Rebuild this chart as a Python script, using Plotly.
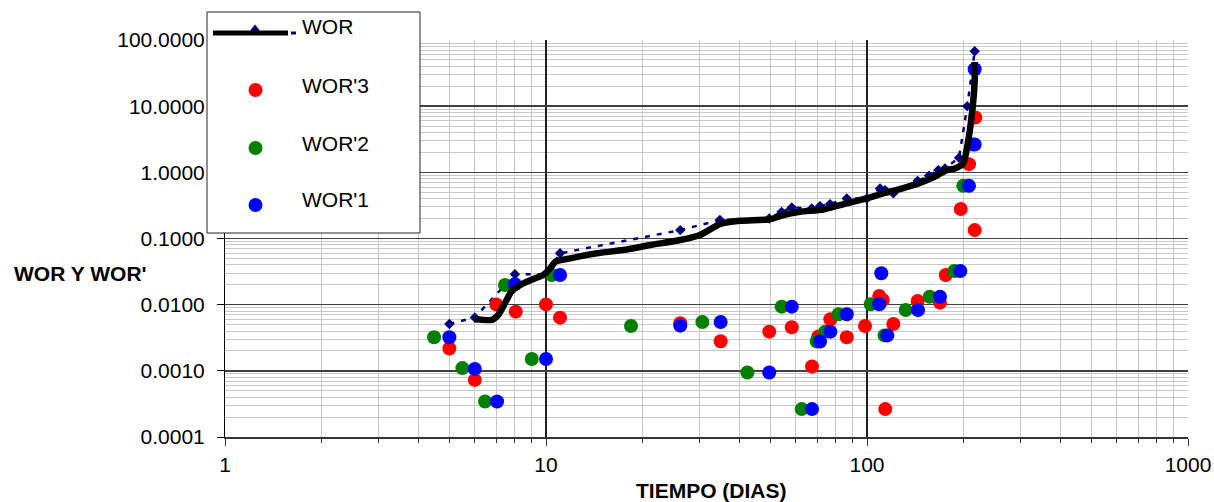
import plotly.graph_objects as go

# ---------------- data ----------------
# WOR (navy dashed line with diamonds)
tiempo_wor = [5.0, 6.0, 8.0, 10.0, 11.06, 26.2, 34.8, 49.6, 54.2, 58.3, 67.3, 71.4,
              76.7, 86.5, 99.8, 109.8, 113.8, 120.8, 143.8, 156.0, 166.8, 175.0,
              193.5, 205.3, 216.5]
wor = [0.0051, 0.0064, 0.0288, 0.0288, 0.0597, 0.134, 0.190, 0.201, 0.253, 0.295,
       0.285, 0.309, 0.331, 0.404, 0.40, 0.571, 0.539, 0.481, 0.744, 0.886, 1.08,
       1.146, 1.66, 10.0, 67.5]

# smoothed WOR (thick black line)
tiempo_ajuste = [6.0, 6.8, 7.1, 7.45, 7.8, 8.3, 9.1, 9.8, 10.3, 10.7, 11.9, 14.4,
                 17.4, 21.1, 26.2, 30.2, 34.8, 40.2, 49.9, 54.9, 61.8, 73.1, 82.4,
                 99.8, 112.4, 120.8, 142.8, 160.9, 177.1, 187.9, 199.5, 206.8,
                 213.5, 216.5, 216.5]
wor_ajuste = [0.0060, 0.0059, 0.0070, 0.0105, 0.0157, 0.0198, 0.0242, 0.0281,
              0.0354, 0.0446, 0.0501, 0.0597, 0.0670, 0.0796, 0.0948, 0.113,
              0.165, 0.185, 0.195, 0.226, 0.253, 0.275, 0.320, 0.404, 0.481,
              0.526, 0.664, 0.838, 1.08, 1.146, 1.36, 3.06, 9.75, 24.6, 46.6]

# WOR'3 (red)
tiempo_w3 = [5.0, 6.0, 7.0, 8.05, 10.0, 11.06, 26.2, 35.0, 49.6, 58.3, 67.4, 70.5,
             76.9, 86.5, 98.6, 109.2, 111.9, 114.0, 120.8, 143.8, 168.8, 175.9,
             195.9, 207.9, 216.5, 217.5]
wor3 = [0.00217, 0.00073, 0.0101, 0.00784, 0.0101, 0.00637, 0.00524, 0.00280,
        0.00391, 0.00456, 0.00116, 0.00329, 0.00603, 0.00322, 0.00477, 0.01353,
        0.01178, 0.000264, 0.00511, 0.01138, 0.01072, 0.0281, 0.279, 1.33, 0.134,
        6.74]

# WOR'2 (green)
tiempo_w2 = [4.48, 5.49, 6.46, 7.45, 9.03, 10.42, 18.4, 30.7, 42.4, 54.2, 62.6,
             69.7, 74.1, 81.6, 102.7, 113.4, 132.0, 156.8, 187.1, 199.5, 212.8]
wor2 = [0.00322, 0.0011, 0.000344, 0.0198, 0.00151, 0.0281, 0.00477, 0.00548,
        0.000942, 0.00933, 0.000264, 0.00277, 0.00391, 0.00716, 0.01014, 0.00343,
        0.00832, 0.0132, 0.0323, 0.625, 2.64]

# WOR'1 (blue)
tiempo_w1 = [5.0, 6.0, 7.04, 8.0, 10.0, 11.06, 26.2, 35.0, 49.6, 58.3, 67.4, 71.4,
             76.9, 86.5, 110.8, 109.2, 115.7, 144.2, 168.8, 195.3, 207.9, 216.5,
             216.5]
wor1 = [0.00322, 0.00107, 0.000344, 0.0203, 0.00151, 0.0281, 0.00482, 0.00548,
        0.000942, 0.00933, 0.000264, 0.00277, 0.00391, 0.00716, 0.0298, 0.01014,
        0.00343, 0.00832, 0.0132, 0.0323, 0.625, 2.64, 36.1]

x_tickvals = [1, 10, 100, 1000]
x_ticktext = ["1", "10", "100", "1000"]
y_tickvals = [0.0001, 0.001, 0.01, 0.1, 1, 10, 100]
y_ticktext = ["0.0001", "0.0010", "0.0100", "0.1000", "1.0000", "10.0000", "100.0000"]

legend_names = ["WOR", "WOR'3", "WOR'2", "WOR'1"]
x_title = "TIEMPO (DIAS)"
y_title = "WOR Y WOR'"

# ---------------- layout geometry (page pixels) ----------------
FW, FH = 1214, 502
L, R, T, B = 225, 26, 40, 65
PW = FW - L - R
PH = FH - T - B


def px(x):
    return (x - L) / PW


def py(y):
    return (FH - B - y) / PH


FONT = "Arial, 'Liberation Sans', sans-serif"
NAVY = "#000080"
RED = "#FF0000"
GREEN = "#008000"
BLUE = "#0000FF"

fig = go.Figure()

fig.add_trace(go.Scatter(
    x=tiempo_wor, y=wor, mode="lines+markers", name=legend_names[0],
    line=dict(color=NAVY, width=2.5, dash="5px,7px"),
    marker=dict(symbol="diamond", size=8, color=NAVY),
    showlegend=False))

for xs, ys, col, nm in [(tiempo_w3, wor3, RED, legend_names[1]),
                        (tiempo_w2, wor2, GREEN, legend_names[2]),
                        (tiempo_w1, wor1, BLUE, legend_names[3])]:
    fig.add_trace(go.Scatter(
        x=xs, y=ys, mode="markers", name=nm,
        marker=dict(symbol="circle", size=14, color=col, line=dict(width=0)),
        showlegend=False))

fig.add_trace(go.Scatter(
    x=tiempo_ajuste, y=wor_ajuste, mode="lines", name="WOR ajuste",
    line=dict(color="black", width=6.5, shape="spline", smoothing=0.6),
    showlegend=False))

# ---------------- custom legend box ----------------
shapes = []
shapes.append(dict(type="rect", xref="paper", yref="paper",
                   x0=px(207), x1=px(420), y0=py(233), y1=py(12),
                   fillcolor="white", line=dict(color="#222222", width=1),
                   layer="above"))
dcx, dcy, dr = 255, 30, 4.5
shapes.append(dict(type="path", xref="paper", yref="paper", layer="above",
                   path=f"M {px(dcx-dr)},{py(dcy)} L {px(dcx)},{py(dcy-dr*1.2)} "
                        f"L {px(dcx+dr)},{py(dcy)} L {px(dcx)},{py(dcy+dr*1.2)} Z",
                   fillcolor=NAVY, line=dict(width=0)))
shapes.append(dict(type="line", xref="paper", yref="paper", layer="above",
                   x0=px(291), x1=px(296), y0=py(33), y1=py(33),
                   line=dict(color=NAVY, width=3)))
shapes.append(dict(type="line", xref="paper", yref="paper", layer="above",
                   x0=px(213), x1=px(288), y0=py(33), y1=py(33),
                   line=dict(color="black", width=5)))
for cy, col in [(90, RED), (148, GREEN), (205, BLUE)]:
    shapes.append(dict(type="circle", xref="paper", yref="paper", layer="above",
                       x0=px(255.5 - 7), x1=px(255.5 + 7),
                       y0=py(cy + 7), y1=py(cy - 7),
                       fillcolor=col, line=dict(width=0)))

annotations = []
for name, ty in zip(legend_names, [26, 85, 143, 200]):
    annotations.append(dict(text=name, xref="paper", yref="paper",
                            x=px(300), y=py(ty), xanchor="left", yanchor="middle",
                            showarrow=False, font=dict(family=FONT, size=21, color="black")))
annotations.append(dict(text=f"<b>{y_title}</b>", xref="paper", yref="paper",
                        x=px(80), y=py(273), xanchor="center", yanchor="middle",
                        showarrow=False, font=dict(family=FONT, size=21, color="black")))
annotations.append(dict(text=f"<b>{x_title}</b>", xref="paper", yref="paper",
                        x=px(711), y=py(490), xanchor="center", yanchor="middle",
                        showarrow=False, font=dict(family=FONT, size=21, color="black")))

fig.update_layout(
    width=FW, height=FH,
    margin=dict(l=L, r=R, t=T, b=B, pad=0, autoexpand=False),
    paper_bgcolor="white", plot_bgcolor="white",
    font=dict(family=FONT, size=21, color="black"),
    shapes=shapes, annotations=annotations,
    showlegend=False,
)

fig.update_xaxes(
    type="log", range=[0, 3], automargin=False,
    tickmode="array", tickvals=x_tickvals, ticktext=x_ticktext,
    ticks="outside", ticklen=7, tickwidth=1, tickcolor="#333333",
    ticklabelstandoff=1,
    showline=True, linecolor="#333333", linewidth=2,
    showgrid=True, gridcolor="#202020", gridwidth=1.2,
    zeroline=False,
    tickfont=dict(family=FONT, size=21, color="black"),
    minor=dict(tickmode="linear", dtick="D1", ticks="outside", ticklen=4,
               tickcolor="#333333", showgrid=True, gridcolor="#C8C8C8", gridwidth=1),
)
fig.update_yaxes(
    type="log", range=[-4, 2], automargin=False,
    tickmode="array", tickvals=y_tickvals, ticktext=y_ticktext,
    ticks="outside", ticklen=7, tickwidth=1, tickcolor="black",
    ticklabelstandoff=8,
    showline=True, linecolor="black", linewidth=1,
    showgrid=True, gridcolor="#404040", gridwidth=1.4,
    zeroline=False,
    tickfont=dict(family=FONT, size=21, color="black"),
    minor=dict(tickmode="linear", dtick="D1", ticks="", showgrid=True,
               gridcolor="#C8C8C8", gridwidth=1),
)

fig.write_html("out.html",
               config={"displayModeBar": False, "staticPlot": True},
               post_script="document.body.style.margin='0';"
                           "document.body.style.overflow='hidden';")
